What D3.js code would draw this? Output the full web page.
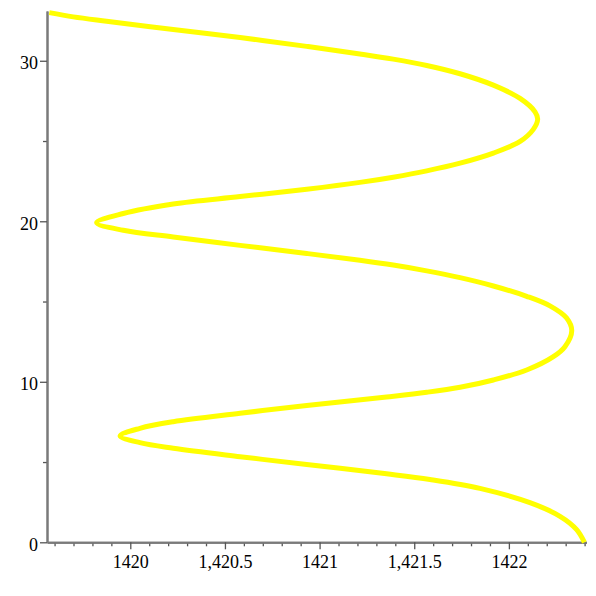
<!DOCTYPE html>
<html>
<head>
<meta charset="utf-8">
<script src="https://cdn.jsdelivr.net/npm/d3@7"></script>
<style>
  html, body { margin: 0; padding: 0; background: #fff; }
  svg { display: block; }
</style>
</head>
<body>
<svg id="chart" width="596" height="596"></svg>
<script>
// Curve samples (y increasing, x as read)
const curveY = [0, 0.791, 1.62, 2.467, 3.358, 3.913, 4.268, 4.847, 5.333, 5.857, 6.206, 6.623, 7.103, 7.514, 8.037, 8.523, 9.053, 9.346, 9.657, 10.112, 10.735, 11.564, 12.187, 13.184, 13.969, 14.729, 15.327, 15.969, 16.486, 16.91, 17.271, 17.57, 17.994, 18.498, 19.016, 19.439, 19.907, 20.486, 21.078, 21.539, 22.0, 22.424, 22.748, 23.14, 23.62, 24.249, 24.972, 25.726, 26.355, 26.822, 27.657, 28.48, 29.19, 29.707, 30.1, 30.424, 30.897, 31.445, 31.944, 32.461, 32.735, 32.997];
const curveX = [1422.399, 1422.358, 1422.27, 1422.111, 1421.847, 1421.583, 1421.354, 1420.932, 1420.58, 1420.227, 1420.051, 1419.946, 1420.051, 1420.227, 1420.58, 1420.932, 1421.354, 1421.566, 1421.742, 1421.918, 1422.094, 1422.235, 1422.296, 1422.332, 1422.305, 1422.217, 1422.094, 1421.918, 1421.742, 1421.566, 1421.389, 1421.213, 1420.932, 1420.58, 1420.227, 1419.963, 1419.822, 1419.963, 1420.227, 1420.58, 1420.932, 1421.213, 1421.389, 1421.566, 1421.742, 1421.918, 1422.059, 1422.129, 1422.152, 1422.138, 1422.059, 1421.918, 1421.742, 1421.566, 1421.389, 1421.213, 1420.932, 1420.58, 1420.227, 1419.875, 1419.699, 1419.572];

const xTickValues = [1420, 1420.5, 1421, 1421.5, 1422];
const xTickLabels = ["1420", "1,420.5", "1421", "1,421.5", "1422"];
const xMinorTicks = [1419.6,1419.7,1419.8,1419.9,1420.1,1420.2,1420.3,1420.4,1420.6,1420.7,1420.8,1420.9,1421.1,1421.2,1421.3,1421.4,1421.6,1421.7,1421.8,1421.9,1422.1,1422.2,1422.3,1422.4];
const yTickValues = [0, 10, 20, 30];
const yTickLabels = ["0", "10", "20", "30"];
const yMinorTicks = [5, 15, 25];

(function () {
const svg = d3.select("#chart");
const mLeft = 47, mRight = 586.5, mTop = 11, mBottom = 542.3;

const x = d3.scaleLinear().domain([1419.56, 1422.41]).range([mLeft, mRight]);
const y = d3.scaleLinear().domain([0, 33.1]).range([mBottom, mTop]);

const axisColor = "#7a7a7a";
const font = "'Liberation Serif', 'Times New Roman', serif";

const gxm = svg.append("g").attr("transform", `translate(0,${mBottom})`)
  .call(d3.axisBottom(x).tickValues(xMinorTicks).tickFormat("").tickSize(4).tickSizeOuter(0));
const gym = svg.append("g").attr("transform", `translate(${mLeft},0)`)
  .call(d3.axisLeft(y).tickValues(yMinorTicks).tickFormat("").tickSize(4).tickSizeOuter(0));

const gx = svg.append("g").attr("transform", `translate(0,${mBottom})`)
  .call(d3.axisBottom(x).tickValues(xTickValues).tickFormat((d, i) => xTickLabels[i]).tickSize(7).tickPadding(6).tickSizeOuter(0));
const gy = svg.append("g").attr("transform", `translate(${mLeft},0)`)
  .call(d3.axisLeft(y).tickValues(yTickValues).tickFormat((d, i) => yTickLabels[i]).tickSize(7).tickPadding(2).tickSizeOuter(0));

[gxm, gym, gx, gy].forEach(g => {
  g.selectAll(".domain").attr("stroke", axisColor).attr("stroke-width", 2);
  g.selectAll(".tick line").attr("stroke", "#555").attr("stroke-width", 1.3);
  g.selectAll("text").attr("font-family", font).attr("font-size", 18).attr("fill", "#000");
});
gy.selectAll("text").attr("dy", "0.45em");

const pts = curveY.map((v, i) => [curveX[i], v]);
const line = d3.line().x(d => x(d[0])).y(d => y(d[1])).curve(d3.curveCatmullRom.alpha(0.5));

svg.append("path")
  .datum(pts)
  .attr("d", line)
  .attr("fill", "none")
  .attr("stroke", "#ffff00")
  .attr("stroke-width", 5)
  .attr("stroke-linejoin", "round")
  .attr("stroke-linecap", "butt");
})();
</script>
</body>
</html>
